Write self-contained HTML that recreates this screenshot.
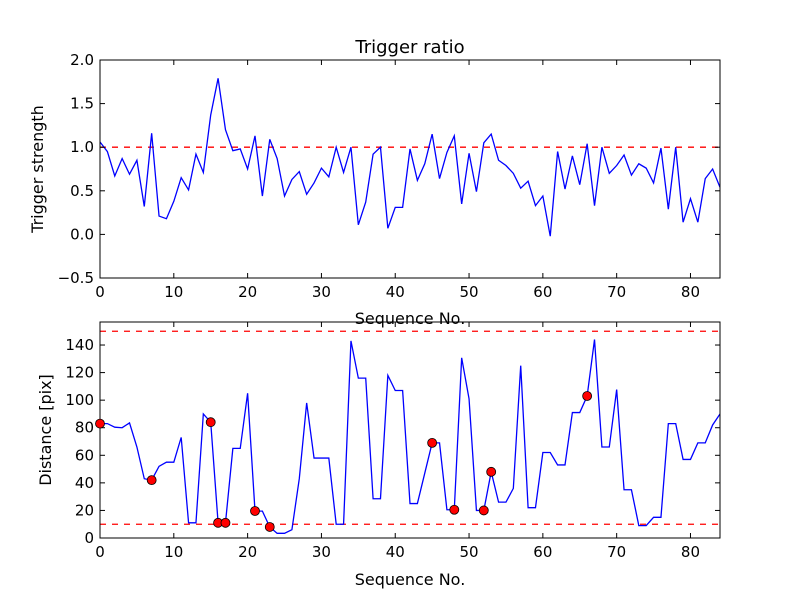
<!DOCTYPE html>
<html><head><meta charset="utf-8"><style>
html,body{margin:0;padding:0;background:#fff}
svg{display:block;font-family:"DejaVu Sans","Liberation Sans",sans-serif}
</style></head><body>
<svg id="chart" width="800" height="600" viewBox="0 0 800 600" xmlns="http://www.w3.org/2000/svg">
<rect width="800" height="600" fill="#fff"/>
<text x="410" y="53" font-size="18" text-anchor="middle">Trigger ratio</text>
<text x="410" y="324" font-size="16" text-anchor="middle">Sequence No.</text>
<text transform="translate(43,169) rotate(-90)" font-size="16" text-anchor="middle">Trigger strength</text>
<text x="410" y="585" font-size="16" text-anchor="middle">Sequence No.</text>
<text transform="translate(51,430) rotate(-90)" font-size="16" text-anchor="middle">Distance [pix]</text>
<g id="top"></g>
<g id="bot"></g>
</svg>
<script>
const xTicks=[0,10,20,30,40,50,60,70,80];
const topYTicks=[-0.5,0,0.5,1,1.5,2];
const topYLabels=["\u22120.5","0.0","0.5","1.0","1.5","2.0"];
const botYTicks=[0,20,40,60,80,100,120,140];
const botYLabels=["0","20","40","60","80","100","120","140"];
const strength=[1.06,0.95,0.67,0.87,0.69,0.85,0.32,1.16,0.21,0.18,0.38,0.65,0.51,0.92,0.71,1.37,1.79,1.20,0.96,0.98,0.75,1.13,0.44,1.09,0.87,0.44,0.63,0.72,0.46,0.59,0.76,0.66,1.0,0.71,1.0,0.11,0.37,0.92,1.0,0.07,0.31,0.31,0.98,0.62,0.81,1.15,0.64,0.94,1.13,0.35,0.93,0.49,1.05,1.15,0.85,0.79,0.70,0.53,0.61,0.33,0.44,-0.02,0.95,0.52,0.90,0.57,1.04,0.33,1.0,0.70,0.79,0.91,0.68,0.81,0.76,0.59,0.99,0.29,1.0,0.14,0.41,0.14,0.64,0.75,0.54];
const distance=[83,83,80.4,80,83.5,66,43,42,52,55,55,73,11,11,90,84,11,11,65,65,105,19.6,19.5,8,3.4,3.4,6,43,98,58,58,58,10,10,143,116,116,28.5,28.5,118,107,107,25,25,47,69,69,20.5,20.5,130.7,101,20,20,48,26,26,36,125,22,22,62,62,53,53,91,91,103,144,66,66,107.7,35,35,9,9,15,15,83,83,57,57,69,69,82,90];
const markIdx=[0,7,15,16,17,21,23,45,48,52,53,66];
const strengthThreshold=[1.0];
const distanceThresholds=[10,150];

const NS="http://www.w3.org/2000/svg";
const L=100,R=720;
const xs=v=>L+(v-0)/(84-0)*(R-L);
function el(p,t,a){const e=document.createElementNS(NS,t);for(const k in a)e.setAttribute(k,a[k]);p.appendChild(e);return e;}
function axes(g,T,B,ymin,ymax,yt,yl,name){
  const ys=v=>B-(v-ymin)/(ymax-ymin)*(B-T);
  return ys;
}
function frame(g,T,B,ys,yt,yl,name){
  const f=el(g,'rect',{x:L,y:T,width:R-L,height:B-T,fill:'none',stroke:'#000','stroke-width':1});
  
  
  xTicks.forEach(v=>{
    const x=xs(v);
    const t1=el(g,'line',{x1:x,x2:x,y1:B,y2:B-5,stroke:'#000'});
    
    
    el(g,'line',{x1:x,x2:x,y1:T,y2:T+5,stroke:'#000'});
    const tx=el(g,'text',{x:x,y:B+19,'font-size':15,'text-anchor':'middle'});
    tx.textContent=String(v);
    
    
  });
  yt.forEach((v,i)=>{
    const y=ys(v);
    const t1=el(g,'line',{x1:L,x2:L+5,y1:y,y2:y,stroke:'#000'});
    
    
    el(g,'line',{x1:R,x2:R-5,y1:y,y2:y,stroke:'#000'});
    const tx=el(g,'text',{x:L-6,y:y+5,'font-size':15,'text-anchor':'end'});
    tx.textContent=yl[i];
    
    
  });
}
function line(g,data,ys,name){
  const p=el(g,'polyline',{points:data.map((v,i)=>xs(i)+','+ys(v)).join(' '),fill:'none',stroke:'#0000ff','stroke-width':1.3});
  
  
}
function hline(g,v,ys,name){
  const y=ys(v);
  const l=el(g,'line',{x1:L,x2:R,y1:y,y2:y,stroke:'#ff0000','stroke-width':1.3,'stroke-dasharray':'6,6'});
  
  
}
// top
const gt=document.getElementById('top');
const T1=60,B1=278;
const ys1=v=>B1-(v-(-0.5))/(2.0-(-0.5))*(B1-T1);
const cp1=el(gt,'clipPath',{id:'c1'});el(cp1,'rect',{x:L,y:T1,width:R-L,height:B1-T1});
const gt2=el(gt,'g',{'clip-path':'url(#c1)'});
strengthThreshold.forEach(v=>hline(gt2,v,ys1,'strength-threshold-line'));
line(gt2,strength,ys1,'trigger-strength-line');
frame(gt,T1,B1,ys1,topYTicks,topYLabels,'top');
// bottom
const gb=document.getElementById('bot');
const T2=322,B2=538;
const ys2=v=>B2-(v-0)/(156.7-0)*(B2-T2);
const cp2=el(gb,'clipPath',{id:'c2'});el(cp2,'rect',{x:L,y:T2,width:R-L,height:B2-T2});
const gb2=el(gb,'g',{'clip-path':'url(#c2)'});
distanceThresholds.forEach(v=>hline(gb2,v,ys2,'distance-threshold-line'));
line(gb2,distance,ys2,'distance-line');
frame(gb,T2,B2,ys2,botYTicks,botYLabels,'bottom');
markIdx.forEach(i=>{
  const c=el(gb,'circle',{cx:xs(i),cy:ys2(distance[i]),r:4.5,fill:'#ff0000',stroke:'#000','stroke-width':0.8});
  
  
});
</script>
</body></html>
